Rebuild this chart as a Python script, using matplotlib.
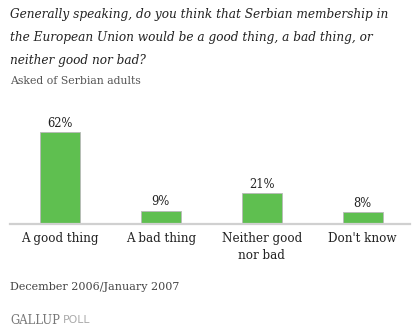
import matplotlib
matplotlib.use("Agg")
import matplotlib.pyplot as plt

categories = ["A good thing", "A bad thing", "Neither good\nnor bad", "Don't know"]
values = [62, 9, 21, 8]
value_labels = ["62%", "9%", "21%", "8%"]

title = ("Generally speaking, do you think that Serbian membership in\n"
         "the European Union would be a good thing, a bad thing, or\n"
         "neither good nor bad?")
subtitle = "Asked of Serbian adults"
date_note = "December 2006/January 2007"

W, H = 420, 331
fig = plt.figure(figsize=(W / 100, H / 100), dpi=100)

# axes placed in pixel terms: axis line at y=224, left 10, right 410
ax_left, ax_right, ax_bottom, ax_top = 10, 410, 224, 120
ax = fig.add_axes([ax_left / W, 1 - ax_bottom / H,
                   (ax_right - ax_left) / W, (ax_bottom - ax_top) / H])

x = range(len(values))
ax.bar(x, values, width=0.396, color="#5fbf50", edgecolor="#b8b8b8", linewidth=0.6)
for xi, v, lab in zip(x, values, value_labels):
    ax.text(xi, v + 1.5, lab, ha="center", va="bottom", fontsize=8.3,
            family="DejaVu Serif", color="#222222")

ax.set_xlim(-0.495, 3.47)
ax.set_ylim(0, 70)
for s in ["top", "right", "left"]:
    ax.spines[s].set_visible(False)
ax.spines["bottom"].set_color("#d0d0d0")
ax.spines["bottom"].set_linewidth(1.6)
ax.set_yticks([])
ax.set_xticks(list(x))
ax.set_xticklabels(categories, fontsize=8.6, family="DejaVu Serif", color="#222222",
                   linespacing=1.35)
ax.tick_params(axis="x", length=0, pad=6)

fig.text(10 / W, 1 - 8 / H, title, ha="left", va="top", fontsize=8.7,
         family="DejaVu Serif", style="italic", color="#222222", linespacing=2.0)
fig.text(10 / W, 1 - 81 / H, subtitle, ha="left", va="center", fontsize=7.8,
         family="DejaVu Serif", color="#555555")
fig.text(10 / W, 1 - 287 / H, date_note, ha="left", va="center", fontsize=8,
         family="DejaVu Serif", color="#444444")
fig.text(10 / W, 1 - 320 / H, "GALLUP", ha="left", va="center", fontsize=8.3,
         family="DejaVu Serif", color="#777777")
fig.text(63 / W, 1 - 320 / H, "POLL", ha="left", va="center", fontsize=7.8,
         family="DejaVu Sans", color="#aaaaaa")

fig.savefig("out.png", dpi=100)
